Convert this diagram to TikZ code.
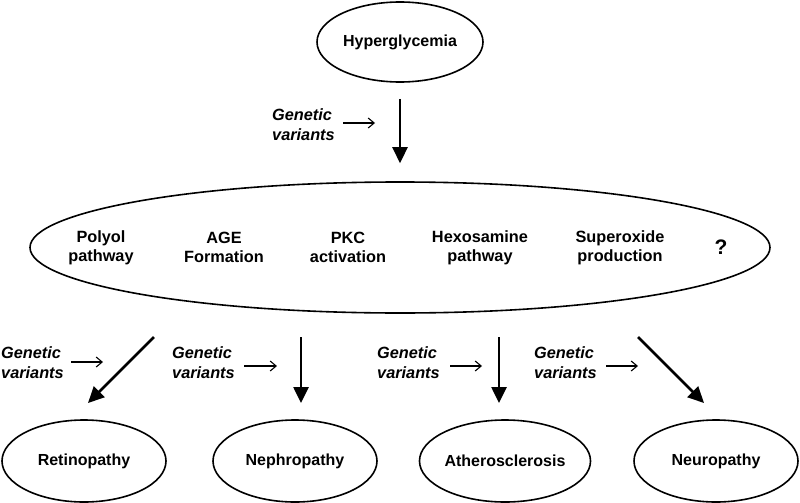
\documentclass[tikz,border=0pt]{standalone}
\usepackage{fontspec}
\setmainfont{Liberation Sans}
\usetikzlibrary{shapes.geometric,arrows.meta}
\tikzset{
  oval/.style={ellipse, draw, line width=1.6pt, inner sep=0pt, font=\bfseries\fontsize{16}{19}\selectfont},
  mechtext/.style={align=center, inner sep=0pt, font=\bfseries\fontsize{16.3}{19}\selectfont},
  gvtext/.style={align=left, anchor=west, inner sep=0pt, font=\bfseries\itshape\fontsize{16.3}{20}\selectfont},
  bigarrow/.style={line width=2.6pt, -{Triangle[length=16pt,width=15pt]}},
  smallarrow/.style={line width=1.1pt, -{Straight Barb[length=6pt,width=10pt]}}
}
\begin{document}
\begin{tikzpicture}[x=1pt,y=-1pt]
\useasboundingbox (0,0) rectangle (800,503);
% top
\node[oval, minimum width=166pt, minimum height=80pt] (hyper) at (400,42) {Hyperglycemia};
\node[oval, minimum width=740pt, minimum height=131pt] (mech) at (400,247.5) {};
\node[mechtext] (m1) at (101,247.5) {Polyol\\pathway};
\node[mechtext] (m2) at (224,247.5) {AGE\\Formation};
\node[mechtext] (m3) at (348,247.5) {PKC\\activation};
\node[mechtext] (m4) at (480,247.5) {Hexosamine\\pathway};
\node[mechtext] (m5) at (620,247.5) {Superoxide\\production};
\node[mechtext, font=\bfseries\fontsize{21}{24}\selectfont] (m6) at (721,247.5) {?};
% bottom
\node[oval, minimum width=164pt, minimum height=82pt] (retino) at (84,461) {Retinopathy};
\node[oval, minimum width=164pt, minimum height=82pt] (nephro) at (295,461) {Nephropathy};
\node[oval, minimum width=164pt, minimum height=82pt] (athero) at (505,461) {Atherosclerosis};
\node[oval, minimum width=164pt, minimum height=82pt] (neuro) at (716,461) {Neuropathy};
% genetic variants labels
\node[gvtext] (g0) at (272,125) {Genetic\\variants};
\node[gvtext] (g1) at (1,363) {Genetic\\variants};
\node[gvtext] (g2) at (172,363) {Genetic\\variants};
\node[gvtext] (g3) at (377,363) {Genetic\\variants};
\node[gvtext] (g4) at (534,363) {Genetic\\variants};
% arrow coordinates
\coordinate (s1) at (154,337); \coordinate (e1) at (88,403);
\coordinate (s2) at (301,337); \coordinate (e2) at (301,403);
\coordinate (s3) at (499,337); \coordinate (e3) at (499,403);
\coordinate (s4) at (638,337); \coordinate (e4) at (704,403);
\coordinate (t0) at (375,123);
\coordinate (t1) at (103,362);
\coordinate (t2) at (277,366);
\coordinate (t3) at (482,366);
\coordinate (t4) at (638,366);
% big arrows
\draw[bigarrow, shorten <=16pt, shorten >=18pt] (hyper.south) -- (mech.north);
\draw[bigarrow] (s1) -- (e1);
\draw[bigarrow] (s2) -- (e2);
\draw[bigarrow] (s3) -- (e3);
\draw[bigarrow] (s4) -- (e4);
% small arrows
\draw[smallarrow] (343,123) -- (t0);
\draw[smallarrow] (71,362) -- (t1);
\draw[smallarrow] (244,366) -- (t2);
\draw[smallarrow] (450,366) -- (t3);
\draw[smallarrow] (606,366) -- (t4);
\end{tikzpicture}
\end{document}
